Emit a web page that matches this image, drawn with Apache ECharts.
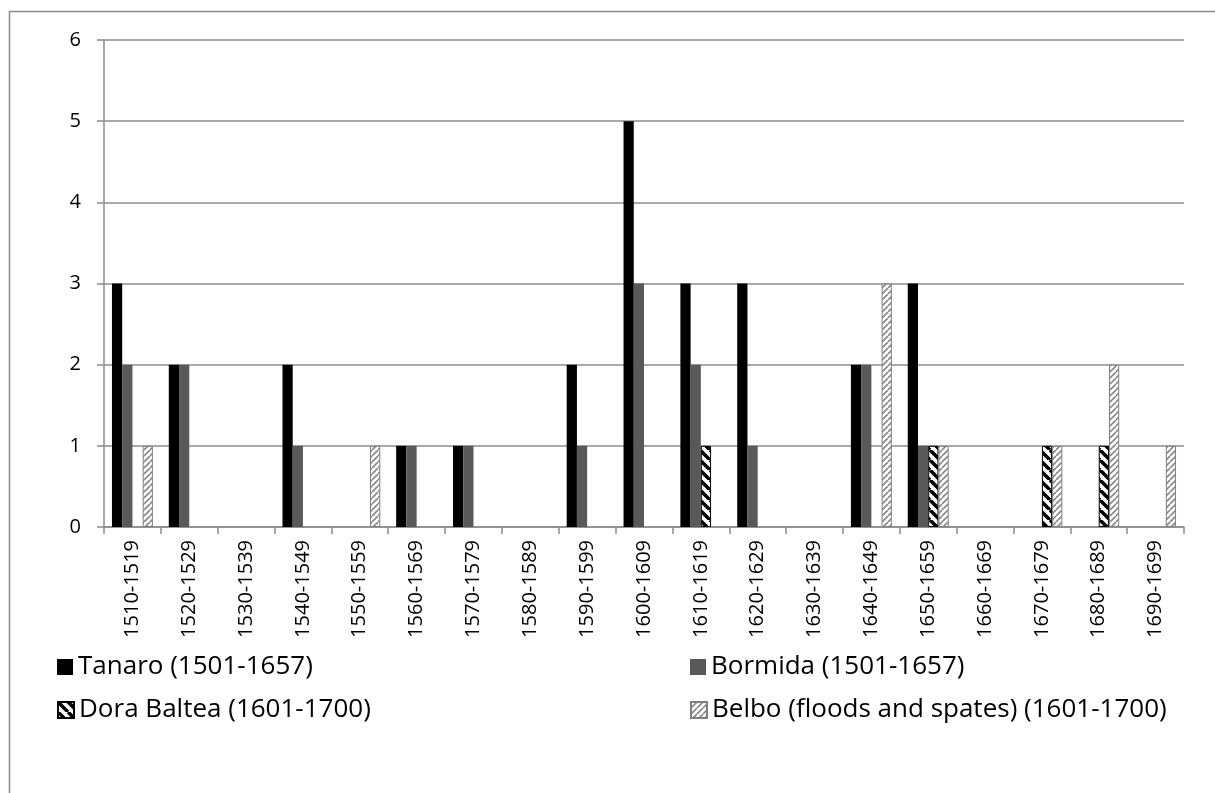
<!DOCTYPE html>
<html><head><meta charset="utf-8">
<script src="https://cdn.jsdelivr.net/npm/echarts@6/dist/echarts.min.js"></script>
<style>html,body{margin:0;padding:0;background:#fff}#c{width:1215px;height:793px}</style>
</head><body><div id="c"></div>
<script>
const categories = ['1510-1519','1520-1529','1530-1539','1540-1549','1550-1559','1560-1569','1570-1579','1580-1589','1590-1599','1600-1609','1610-1619','1620-1629','1630-1639','1640-1649','1650-1659','1660-1669','1670-1679','1680-1689','1690-1699'];
const tanaro  = [3,2,0,2,0,1,1,0,2,5,3,3,0,2,3,0,0,0,0];
const bormida = [2,2,0,1,0,1,1,0,1,3,2,1,0,2,1,0,0,0,0];
const dora    = [0,0,0,0,0,0,0,0,0,0,1,0,0,0,1,0,1,1,0];
const belbo   = [1,0,0,0,1,0,0,0,0,0,0,0,0,3,1,0,1,2,1];
const seriesNames = ['Tanaro (1501-1657)','Bormida (1501-1657)','Dora Baltea (1601-1700)','Belbo (floods and spates) (1601-1700)'];

function makePattern(size, color, width, dir){
  const c = document.createElement('canvas'); c.width = size; c.height = size;
  const g = c.getContext('2d');
  g.fillStyle = '#fff'; g.fillRect(0,0,size,size);
  g.strokeStyle = color; g.lineWidth = width;
  for (let k=-1;k<=1;k++){
    g.beginPath();
    if (dir === 'back'){ g.moveTo(k*size,0); g.lineTo(k*size+size,size); }
    else { g.moveTo(k*size,size); g.lineTo(k*size+size,0); }
    g.stroke();
  }
  return {image:c, repeat:'repeat'};
}
const doraPat = makePattern(10,'#000',3.5,'back');
const belboPat = makePattern(6,'#888',1.6,'fwd');
const noZero = arr => arr.map(v => v === 0 ? '-' : v);

const font = 'Open Sans, Noto Sans, sans-serif';
const chart = echarts.init(document.getElementById('c'));
const legendBase = {orient:'horizontal', itemWidth:16, itemHeight:16, icon:'rect', itemGap:6,
  textStyle:{fontFamily:font, fontSize:26, color:'#000', padding:[0,0,0,0]}};
chart.setOption({
  animation:false,
  graphic:[{type:'rect', shape:{x:9.5,y:11.5,width:1300,height:900}, style:{fill:'none', stroke:'#8c8c8c', lineWidth:1.5}, silent:true}],
  grid:{left:104, right:31, top:40, bottom:266},
  legend:[
    Object.assign({}, legendBase, {data:[seriesNames[0]], left:52, top:649}),
    Object.assign({}, legendBase, {data:[seriesNames[1]], left:685, top:649}),
    Object.assign({}, legendBase, {data:[seriesNames[2]], left:52, top:692}),
    Object.assign({}, legendBase, {data:[seriesNames[3]], left:685, top:692})
  ],
  xAxis:{type:'category', data:categories,
    axisLine:{lineStyle:{color:'#8c8c8c', width:1.5}},
    axisTick:{show:true, length:7, alignWithLabel:false, lineStyle:{color:'#8c8c8c', width:1.5}},
    axisLabel:{rotate:90, interval:0, fontFamily:font, fontSize:20, color:'#000', margin:13}},
  yAxis:{type:'value', min:0, max:6, interval:1,
    axisLine:{show:true, lineStyle:{color:'#8c8c8c', width:1.5}},
    axisTick:{show:true, length:7, lineStyle:{color:'#8c8c8c', width:1.5}},
    splitLine:{lineStyle:{color:'#8c8c8c', width:1.5}},
    axisLabel:{fontFamily:font, fontSize:20, color:'#000', margin:23}},
  series:[
    {name:seriesNames[0], type:'bar', data:noZero(tanaro), barGap:'0%', barCategoryGap:'28%', itemStyle:{color:'#000'}},
    {name:seriesNames[1], type:'bar', data:noZero(bormida), itemStyle:{color:'#595959'}},
    {name:seriesNames[2], type:'bar', data:noZero(dora), itemStyle:{color:doraPat, borderColor:'#000', borderWidth:1}},
    {name:seriesNames[3], type:'bar', data:noZero(belbo), itemStyle:{color:belboPat, borderColor:'#808080', borderWidth:1}}
  ]
});
</script></body></html>
